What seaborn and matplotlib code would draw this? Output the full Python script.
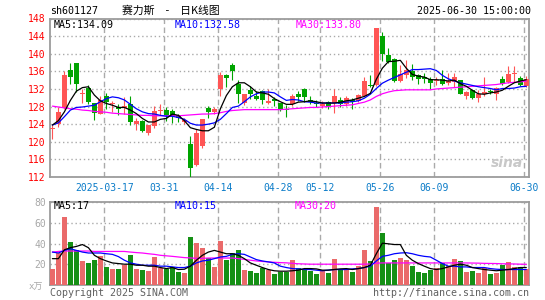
import numpy as np
import pandas as pd
import matplotlib
matplotlib.use("Agg")
import matplotlib.pyplot as plt
import seaborn as sns

# ---------------- data ----------------
opens = [122.8, 124.1, 127.7, 136.2, 137.8, 130.9, 132.2, 128.7, 126.4, 130.5,
         128.5, 127.9, 127.6, 128.5, 124.1, 124.8, 121.9, 123.6, 126.9, 127.2,
         127.0, 126.0, 124.6, 119.5, 114.7, 119.0, 127.6, 126.8, 132.0, 135.2,
         137.4, 133.1, 128.7, 131.7, 130.3, 131.5, 128.8, 129.7, 128.8, 127.5,
         128.5, 130.8, 132.1, 129.5, 128.8, 128.2, 129.1, 128.8, 129.5, 128.5,
         129.5, 129.3, 130.5, 132.9, 132.8, 144.0, 139.8, 138.8, 133.8, 135.2,
         136.1, 135.1, 134.7, 134.2, 133.8, 134.3, 133.4, 133.6, 134.0, 130.4,
         131.7, 130.0, 130.9, 131.5, 130.9, 134.2, 133.6, 135.4, 134.4, 132.7]
closes = [123.2, 126.7, 135.1, 134.7, 133.2, 131.1, 129.0, 126.6, 129.4, 129.1,
          128.8, 127.5, 128.2, 124.5, 124.8, 122.5, 123.8, 126.9, 127.2, 126.0,
          125.8, 125.5, 124.9, 114.0, 122.0, 125.1, 126.8, 127.4, 135.1, 134.5,
          136.1, 130.9, 130.8, 130.8, 129.8, 129.6, 129.2, 129.2, 127.4, 127.2,
          130.3, 130.2, 130.2, 129.1, 128.5, 128.5, 127.8, 130.3, 128.5, 129.9,
          129.0, 130.7, 133.7, 132.7, 145.8, 140.0, 138.2, 133.8, 135.3, 136.3,
          134.7, 134.2, 134.2, 133.4, 134.1, 133.2, 133.8, 134.6, 130.9, 131.3,
          130.0, 130.9, 131.2, 131.4, 132.3, 133.2, 135.5, 135.6, 132.9, 134.3]
highs = [123.9, 127.8, 136.0, 138.0, 137.8, 132.1, 132.8, 128.9, 130.5, 131.1,
         129.2, 128.5, 130.2, 130.3, 125.5, 124.9, 123.9, 128.1, 128.5, 127.8,
         127.5, 126.4, 125.4, 121.3, 122.9, 125.2, 128.1, 127.9, 135.8, 135.5,
         138.0, 134.0, 130.9, 132.6, 131.5, 131.7, 132.0, 130.2, 128.9, 128.3,
         130.8, 131.5, 132.2, 130.5, 129.5, 129.2, 129.2, 132.1, 130.1, 130.3,
         129.9, 130.8, 134.6, 135.2, 145.8, 144.9, 141.2, 139.0, 137.5, 138.5,
         137.7, 135.5, 135.6, 134.7, 134.6, 136.4, 135.6, 135.6, 134.1, 131.5,
         131.8, 131.7, 134.7, 131.9, 132.5, 134.9, 137.3, 137.1, 135.0, 134.9]
lows = [120.7, 123.3, 127.5, 133.1, 131.3, 128.7, 128.5, 124.9, 126.3, 127.5,
        126.8, 126.0, 126.4, 123.8, 122.6, 122.3, 121.6, 123.2, 126.0, 124.8,
        124.3, 124.5, 124.1, 112.1, 114.6, 118.7, 125.5, 126.3, 130.3, 132.5,
        134.0, 128.8, 128.3, 129.8, 129.4, 128.5, 128.5, 128.1, 127.0, 125.7,
        128.2, 129.3, 129.1, 128.5, 127.8, 127.6, 127.4, 126.5, 128.0, 128.2,
        127.5, 129.0, 130.3, 132.5, 132.6, 138.3, 137.8, 133.6, 133.6, 134.4,
        134.1, 133.2, 133.4, 132.1, 132.8, 132.8, 132.8, 132.5, 130.8, 129.8,
        129.8, 129.1, 130.3, 130.9, 129.4, 132.8, 133.4, 133.6, 132.6, 132.4]
ma5 = [123.8, 124.8, 126.8, 129.4, 131.5, 132.3, 132.5, 130.6, 129.3, 128.7,
       128.3, 127.8, 127.8, 127.2, 126.4, 125.3, 124.5, 124.5, 125.1, 125.3,
       126.3, 126.0, 124.8, 123.2, 122.8, 122.5, 122.5, 123.3, 127.5, 130.5,
       132.5, 133.4, 133.4, 132.5, 131.3, 131.1, 130.8, 129.8, 129.1, 128.5,
       128.5, 129.0, 129.1, 129.3, 129.1, 128.8, 128.8, 128.8, 129.0, 129.3,
       129.5, 129.9, 130.3, 131.0, 134.2, 136.7, 138.2, 138.3, 138.5, 136.7,
       135.3, 134.9, 134.7, 134.1, 134.1, 134.0, 133.8, 134.0, 133.2, 132.6,
       131.7, 130.9, 130.8, 131.1, 131.3, 131.7, 132.6, 133.4, 133.8, 134.1]
ma10 = [123.8, 124.3, 125.7, 127.2, 127.8, 127.9, 128.1, 128.3, 129.1, 129.8,
        130.2, 130.0, 129.5, 128.5, 127.5, 126.8, 126.4, 126.3, 126.0, 125.8,
        125.8, 125.5, 125.1, 124.2, 123.8, 123.8, 124.0, 124.3, 125.1, 126.4,
        127.8, 128.1, 129.1, 130.2, 130.9, 131.3, 131.3, 131.1, 130.2, 129.4,
        129.6, 129.5, 129.1, 129.0, 128.8, 128.8, 128.8, 128.8, 128.8, 129.0,
        129.1, 129.3, 129.9, 130.8, 132.1, 133.3, 134.0, 134.6, 135.2, 135.8,
        136.4, 136.4, 136.5, 136.6, 136.2, 135.1, 134.3, 133.8, 133.4, 133.1,
        132.8, 132.5, 132.3, 132.1, 131.8, 132.1, 132.1, 132.2, 132.5, 132.6]
ma30 = [128.1, 127.9, 127.7, 127.5, 127.4, 127.2, 127.1, 126.9, 126.8, 126.7,
        126.5, 126.4, 126.3, 126.2, 126.1, 126.0, 126.0, 125.9, 125.9, 125.9,
        125.9, 125.9, 126.0, 126.1, 126.2, 126.3, 126.3, 126.4, 126.6, 126.9,
        127.1, 127.2, 127.3, 127.3, 127.3, 127.3, 127.3, 127.3, 127.3, 127.4,
        127.5, 127.6, 127.7, 127.8, 127.8, 127.9, 128.0, 128.1, 128.2, 128.3,
        128.4, 128.7, 129.0, 129.5, 130.3, 130.9, 131.3, 131.6, 131.7, 131.8,
        131.8, 131.8, 131.8, 131.8, 132.0, 132.1, 132.2, 132.3, 132.4, 132.5,
        132.6, 132.7, 132.8, 132.9, 133.0, 133.2, 133.4, 133.5, 133.6, 133.8]
volume = [15.4, 31.0, 65.5, 41.9, 33.4, 23.3, 21.4, 23.9, 28.3, 17.3,
          15.4, 15.4, 19.2, 28.7, 15.4, 14.5, 13.5, 27.1, 17.0, 15.4,
          17.3, 12.9, 11.7, 46.6, 40.3, 35.6, 25.8, 17.3, 42.8, 24.6,
          30.9, 33.4, 14.5, 13.9, 11.7, 16.4, 14.5, 11.0, 13.2, 13.2,
          23.9, 16.4, 15.7, 13.9, 11.0, 13.9, 12.0, 25.2, 15.7, 15.7,
          12.9, 18.3, 33.4, 23.0, 75.3, 49.8, 21.4, 23.9, 25.8, 23.9,
          18.3, 12.9, 11.7, 14.5, 16.4, 21.4, 18.3, 25.2, 23.0, 12.9,
          13.9, 11.7, 17.0, 11.0, 11.7, 19.2, 22.4, 17.3, 17.3, 15.4]
vma5 = [25.5, 25.5, 34.0, 36.0, 37.2, 39.0, 36.0, 28.7, 25.5, 23.3,
        21.4, 20.8, 20.2, 20.2, 19.2, 19.2, 18.3, 18.3, 17.0, 16.0,
        17.0, 15.1, 15.4, 18.3, 24.0, 28.7, 31.8, 33.4, 31.8, 30.2,
        30.2, 28.7, 25.5, 21.4, 19.2, 17.0, 15.1, 13.9, 13.5, 13.5,
        13.9, 14.5, 16.0, 16.0, 15.7, 14.5, 14.5, 15.1, 15.7, 16.0,
        15.1, 16.0, 17.0, 19.2, 30.2, 40.3, 39.7, 39.0, 39.0, 28.7,
        24.0, 20.8, 18.3, 16.0, 15.1, 16.0, 17.6, 19.2, 20.2, 19.2,
        17.0, 16.0, 15.1, 14.5, 13.9, 14.5, 15.1, 16.0, 17.0, 17.0]
vma10 = [31.8, 30.9, 33.4, 35.0, 33.4, 31.8, 30.9, 30.9, 30.9, 30.2,
         29.6, 27.5, 24.0, 21.4, 20.2, 19.2, 19.2, 19.2, 18.3, 18.3,
         17.6, 17.0, 17.0, 18.3, 21.4, 23.3, 24.0, 25.5, 27.1, 27.7,
         29.6, 30.2, 29.6, 27.1, 24.6, 23.3, 22.4, 21.4, 18.3, 17.0,
         16.0, 15.7, 15.1, 15.1, 14.5, 13.9, 14.5, 15.1, 15.1, 15.1,
         15.7, 16.0, 17.0, 18.3, 23.3, 27.7, 28.7, 30.2, 30.9, 31.2,
         30.2, 28.7, 27.7, 27.1, 24.0, 20.8, 18.3, 18.3, 17.6, 17.6,
         17.0, 17.0, 17.0, 16.0, 15.4, 15.1, 15.1, 15.1, 15.1, 15.1]
vma30 = [31.8, 32.4, 32.8, 32.8, 32.8, 32.8, 32.8, 32.4, 32.4, 32.4,
         32.4, 32.4, 32.4, 31.8, 31.3, 30.9, 30.2, 29.6, 28.7, 28.2,
         27.7, 27.1, 26.5, 26.2, 25.8, 25.8, 26.1, 26.1, 26.1, 26.1,
         26.1, 25.5, 24.8, 24.0, 23.3, 22.8, 22.4, 22.0, 21.7, 21.5,
         21.0, 20.6, 20.4, 20.2, 20.2, 20.2, 20.2, 20.2, 20.2, 20.2,
         20.2, 20.2, 20.2, 20.4, 21.2, 21.4, 21.4, 21.4, 21.4, 21.4,
         21.4, 21.4, 21.4, 21.4, 21.4, 21.4, 21.4, 21.4, 21.4, 21.4,
         21.3, 21.2, 21.0, 20.9, 20.8, 20.6, 20.5, 20.4, 20.2, 20.1]
date_index = [9, 19, 28, 38, 45, 55, 64, 79]
date_labels = ["2025-03-17", "03-31", "04-14", "04-28", "05-12", "05-26", "06-09", "06-30"]
price_ticks = [112, 116, 120, 124, 128, 132, 136, 140, 144, 148]
vol_ticks = [20, 40, 60, 80]

# ---------------- style ----------------
sns.set_style("white")
plt.rcParams["font.family"] = ["DejaVu Sans Mono", "Noto Sans CJK SC", "DejaVu Sans"]
plt.rcParams["lines.scale_dashes"] = False

RED = "#FF5555"
GREEN = "#00A400"
GRID = "#AAAAAA"
FRAME = "#9C9C9C"
BLUE_TXT = "#0A7BC8"

W, H = 545, 300
fig = plt.figure(figsize=(W / 100, H / 100), dpi=100)
fig.patch.set_facecolor("white")


def fx(px):
    return px / W


def fy(py):
    return 1 - py / H


L, R = 50, 529
axp = fig.add_axes([fx(L), fy(177), fx(R) - fx(L), fy(18.5) - fy(177)])
axv = fig.add_axes([fx(L), fy(285.3), fx(R) - fx(L), fy(201.7) - fy(285.3)])

idx = np.arange(len(opens))
o = np.array(opens)
c = np.array(closes)
up = c >= o
cols = np.where(up, RED, GREEN)

# ---------------- price panel ----------------
axp.vlines(idx, lows, highs, colors=cols, lw=0.8, zorder=3)
axp.bar(idx, np.maximum(np.abs(c - o), 0.15), bottom=np.minimum(o, c), width=0.8,
        color=cols, linewidth=0, zorder=3)
sns.lineplot(x=idx, y=ma30, color="#FF00FF", lw=0.9, ax=axp, zorder=4)
sns.lineplot(x=idx, y=ma10, color="#0000FF", lw=0.9, ax=axp, zorder=4)
sns.lineplot(x=idx, y=ma5, color="black", lw=0.9, ax=axp, zorder=4)

xlim = (-0.4, 79.45)
gx = [i - 0.33 for i in date_index]
for ax in (axp, axv):
    ax.set_xlim(*xlim)
    for s in ax.spines.values():
        s.set_color(FRAME)
        s.set_linewidth(1.3)
        s.set_visible(True)
    ax.set_xlabel("")
    ax.set_ylabel("")

axp.set_ylim(112, 148)
axp.set_yticks(price_ticks)
axp.set_yticklabels([str(t) for t in price_ticks])
axp.set_xticks(gx)
axp.set_xticklabels(date_labels)
axp.tick_params(axis="y", colors="#FF0000", labelsize=7, length=0, pad=3)
axp.tick_params(axis="x", colors=BLUE_TXT, labelsize=7, length=0, pad=4)
for lab in axp.get_yticklabels():
    lab.set_color("#FF0000")
for lab in axp.get_xticklabels():
    lab.set_color(BLUE_TXT)
axp.grid(axis="y", color=GRID, linestyle=(0, (1, 2)), lw=1.0)
axp.grid(axis="x", color=GRID, linestyle=(0, (4, 2.5)), lw=1.0)
axp.set_axisbelow(True)

# ---------------- volume panel ----------------
vdf = pd.DataFrame({"i": idx, "vol": volume, "dir": np.where(up, "up", "down")})
sns.barplot(data=vdf, x="i", y="vol", hue="dir", palette={"up": RED, "down": GREEN},
            native_scale=True, dodge=False, width=0.8, errorbar=None, legend=False,
            linewidth=0, ax=axv, zorder=3)
sns.lineplot(x=idx, y=vma30, color="#FF00FF", lw=0.9, ax=axv, zorder=4)
sns.lineplot(x=idx, y=vma10, color="#0000FF", lw=0.9, ax=axv, zorder=4)
sns.lineplot(x=idx, y=vma5, color="black", lw=0.9, ax=axv, zorder=4)
axv.set_xlim(*xlim)
axv.set_ylim(0, 80)
axv.set_yticks(vol_ticks)
axv.set_yticklabels([str(t) for t in vol_ticks])
axv.set_xticks(gx)
axv.set_xticklabels([])
axv.tick_params(axis="y", colors="#A8A8A8", labelsize=7, length=0, pad=3)
axv.tick_params(axis="x", length=0)
axv.grid(axis="y", color=GRID, linestyle=(0, (1, 2)), lw=1.0)
axv.grid(axis="x", color=GRID, linestyle=(0, (4, 2.5)), lw=1.0)
axv.set_axisbelow(True)
axv.set_xlabel("")
axv.set_ylabel("")

# ---------------- texts ----------------
fs = 7.2
fig.text(fx(50), fy(11), "sh601127", fontsize=fs, va="center", ha="left", color="black")
fig.text(fx(122), fy(11), "赛力斯\u3000-\u3000日K线图", fontsize=7.8, va="center", ha="left",
         color="black", family=["Noto Sans CJK SC", "DejaVu Sans"])
fig.text(fx(531), fy(11), "2025-06-30 15:00:00", fontsize=fs, va="center", ha="right",
         color="black")

fig.text(fx(54), fy(25), "MA5:134.09", fontsize=fs, va="center", color="black")
fig.text(fx(175), fy(25), "MA10:132.58", fontsize=fs, va="center", color="#0000FF")
fig.text(fx(296), fy(25), "MA30:133.80", fontsize=fs, va="center", color="#FF00FF")

fig.text(fx(54), fy(206), "MA5:17", fontsize=fs, va="center", color="black")
fig.text(fx(175), fy(206), "MA10:15", fontsize=fs, va="center", color="#0000FF")
fig.text(fx(295), fy(206), "MA30:20", fontsize=fs, va="center", color="#FF00FF")

fig.text(fx(36), fy(287), "x万", fontsize=6.5, va="center", ha="center", color="#A8A8A8",
         family=["DejaVu Sans Mono", "Noto Sans CJK SC"])
fig.text(fx(50), fy(293), "Copyright 2025 SINA.COM", fontsize=fs, va="center", ha="left",
         color="#606060")
fig.text(fx(529), fy(293), "http://finance.sina.com.cn", fontsize=fs, va="center",
         ha="right", color="#606060")

# sina watermark
axp.text(0.955, 0.09, "sina", transform=axp.transAxes, fontsize=10, fontstyle="italic",
         fontweight="bold", color="#C8C8C8", ha="center", va="center",
         family="DejaVu Sans", zorder=2)

fig.savefig("out.png", dpi=100, facecolor="white")
